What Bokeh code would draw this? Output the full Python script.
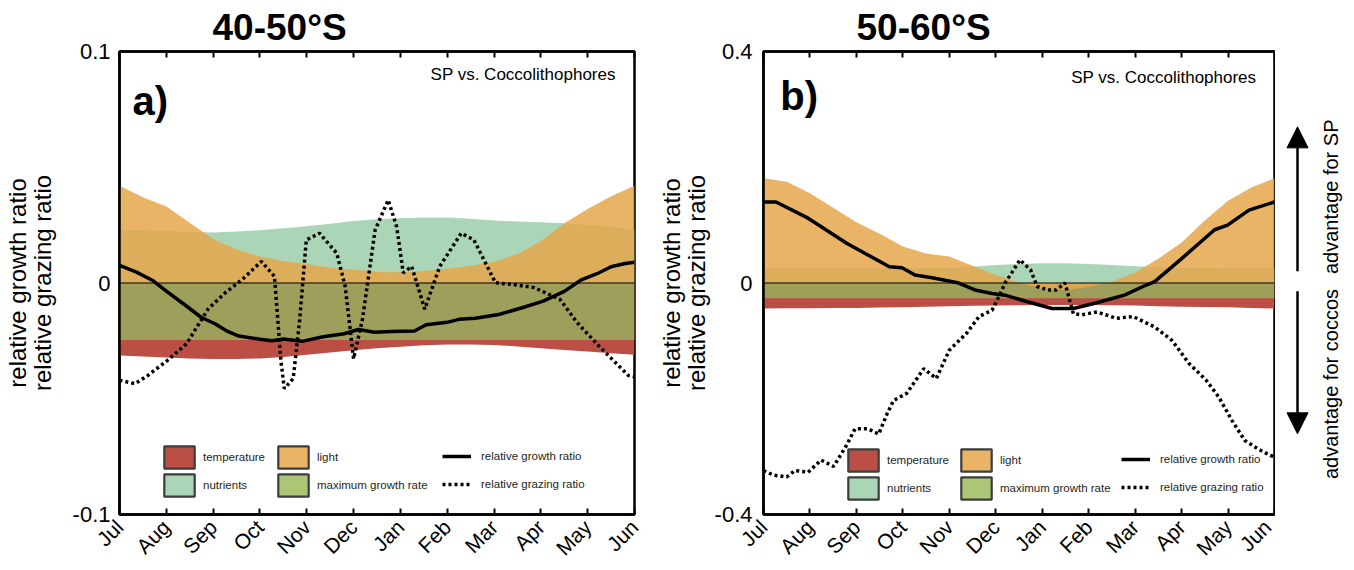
from math import pi

from bokeh.embed import file_html
from bokeh.layouts import row
from bokeh.models import (Arrow, FixedTicker, Label, Legend, LegendItem,
                          LinearAxis, NormalHead, Range1d, Span)
from bokeh.plotting import figure
from bokeh.resources import INLINE

# ---------------------------------------------------------------- data
months = ["Jul", "Aug", "Sep", "Oct", "Nov", "Dec",
          "Jan", "Feb", "Mar", "Apr", "May", "Jun"]
month_pos = list(range(12))

# half-month grid used by the limitation bands
grid = [0, 0.5, 1, 1.5, 2, 2.5, 3, 3.5, 4, 4.5, 5, 5.5,
        6, 6.5, 7, 7.5, 8, 8.5, 9, 9.5, 10, 10.5, 11]

# 40-50 S
light_a = [0.042, 0.037, 0.033, 0.026, 0.019, 0.0145, 0.0115, 0.0095, 0.0082,
           0.0066, 0.0058, 0.0048, 0.0046, 0.0052, 0.0062, 0.0075, 0.0092,
           0.0125, 0.018, 0.0258, 0.032, 0.0375, 0.042]
nutr_a = [0.023, 0.0228, 0.0225, 0.0221, 0.0218, 0.0222, 0.0228, 0.0236,
          0.0245, 0.0256, 0.0268, 0.0275, 0.028, 0.0283, 0.0283, 0.0277,
          0.027, 0.0266, 0.0262, 0.0258, 0.0252, 0.0242, 0.0232]
maxg_a = [-0.0246, -0.0246, -0.0246, -0.0246, -0.0246, -0.0246, -0.0246,
          -0.0246, -0.0246, -0.0246, -0.0246, -0.0246, -0.0246, -0.0246,
          -0.0246, -0.0246, -0.0246, -0.0246, -0.0246, -0.0246, -0.0246,
          -0.0246, -0.0246]
temp_a = [-0.0313, -0.0318, -0.0322, -0.0326, -0.0328, -0.0328, -0.0326,
          -0.032, -0.031, -0.03, -0.029, -0.0282, -0.0275, -0.0269, -0.0266,
          -0.0266, -0.0268, -0.0274, -0.0282, -0.0289, -0.0296, -0.0303,
          -0.031]

growth_a_x = [0, 0.35, 0.7, 1.0, 1.4, 1.75, 2.05, 2.3, 2.55, 3.0, 3.26, 3.5,
              3.9, 4.35, 4.8, 5.1, 5.45, 5.8, 6.3, 6.55, 7.0, 7.25, 7.6, 8.1,
              8.6, 9.05, 9.5, 9.85, 10.2, 10.5, 10.8, 11]
growth_a = [0.0076, 0.0048, 0.0012, -0.0035, -0.0095, -0.0149, -0.0177,
            -0.0208, -0.0229, -0.0243, -0.0249, -0.0242, -0.0252, -0.0232,
            -0.0219, -0.0201, -0.0213, -0.021, -0.0207, -0.018, -0.017,
            -0.0157, -0.0152, -0.0136, -0.0107, -0.0078, -0.0036, 0.0012,
            0.004, 0.007, 0.0084, 0.009]

grazing_a_x = [0, 0.33, 0.6, 1.02, 1.43, 1.89, 2.26, 2.62, 3.03, 3.31, 3.45,
               3.52, 3.71, 3.85, 3.99, 4.27, 4.64, 4.82, 5.0, 5.19, 5.46,
               5.74, 5.92, 6.06, 6.24, 6.52, 6.84, 7.3, 7.57, 8.03, 8.39,
               8.86, 9.41, 9.77, 10.23, 10.87, 11]
grazing_a = [-0.042, -0.0435, -0.04, -0.0335, -0.0263, -0.0113, -0.0042,
             0.0015, 0.0093, 0.0029, -0.034, -0.0456, -0.0413, -0.0156,
             0.0186, 0.0215, 0.0129, -0.0014, -0.0328, -0.0156, 0.0229,
             0.0358, 0.0243, 0.0044, 0.0072, -0.0113, 0.0072, 0.0215, 0.0186,
             0.0001, -0.0006, -0.002, -0.0071, -0.017, -0.027, -0.04, -0.0405]

# 50-60 S
light_b = [0.181, 0.175, 0.155, 0.13, 0.105, 0.085, 0.063, 0.051, 0.0456,
           0.03, 0.014, 0.001, -0.011, -0.012, -0.007, 0.002, 0.018, 0.042,
           0.07, 0.108, 0.142, 0.165, 0.181]
nutr_b = [0.025, 0.025, 0.025, 0.025, 0.0252, 0.0252, 0.0254, 0.0256, 0.026,
          0.028, 0.031, 0.033, 0.034, 0.034, 0.033, 0.031, 0.029, 0.027,
          0.026, 0.0255, 0.025, 0.025, 0.025]
maxg_b = [-0.0265, -0.0265, -0.0265, -0.0265, -0.0265, -0.0265, -0.0265,
          -0.0265, -0.0265, -0.0265, -0.0265, -0.0265, -0.0265, -0.0265,
          -0.0265, -0.0265, -0.0265, -0.0265, -0.0265, -0.0265, -0.0265,
          -0.0265, -0.0265]
temp_b = [-0.044, -0.0438, -0.0435, -0.0432, -0.043, -0.0425, -0.042,
          -0.041, -0.04, -0.0395, -0.039, -0.0385, -0.038, -0.038, -0.038,
          -0.0385, -0.039, -0.04, -0.041, -0.0415, -0.042, -0.043, -0.044]

growth_b_x = [0, 0.27, 0.96, 1.79, 2.71, 2.98, 3.26, 3.63, 4.18, 4.55, 4.92,
              5.2, 5.66, 6.21, 6.67, 7.13, 7.77, 8.24, 8.42, 8.97, 9.71, 9.99,
              10.45, 11]
growth_b = [0.14, 0.14, 0.112, 0.0687, 0.028, 0.0265, 0.0139, 0.0092, 0.0005,
            -0.012, -0.018, -0.021, -0.032, -0.044, -0.044, -0.035, -0.021,
            -0.0035, 0.0023, 0.04, 0.092, 0.1, 0.126, 0.14]

grazing_b_x = [0, 0.22, 0.5, 0.68, 0.96, 1.24, 1.51, 1.79, 1.97, 2.25, 2.48,
               2.66, 2.8, 3.08, 3.45, 3.72, 4.0, 4.37, 4.64, 4.92, 5.1, 5.2,
               5.29, 5.52, 5.75, 5.89, 6.12, 6.3, 6.49, 6.67, 6.85, 7.18,
               7.59, 7.96, 8.42, 8.79, 9.16, 9.53, 9.8, 10.08, 10.36, 10.63,
               10.91, 11]
grazing_b = [-0.324, -0.332, -0.335, -0.324, -0.327, -0.306, -0.317, -0.28,
             -0.252, -0.252, -0.261, -0.226, -0.203, -0.191, -0.148, -0.165,
             -0.116, -0.087, -0.058, -0.047, -0.018, 0.0, 0.011, 0.04, 0.0225,
             -0.006, -0.012, -0.012, 0.0, -0.053, -0.055, -0.05, -0.061,
             -0.058, -0.076, -0.099, -0.139, -0.168, -0.197, -0.237, -0.272,
             -0.286, -0.298, -0.3]

y_ticks_a = [-0.1, 0, 0.1]
y_tick_labels_a = ["-0.1", "0", "0.1"]
y_ticks_b = [-0.4, 0, 0.4]
y_tick_labels_b = ["-0.4", "0", "0.4"]

# ---------------------------------------------------------------- style
FONT = "Liberation Sans"
C_TEMP = "#bb4f45"
C_NUTR = "#aad5b7"
C_LIGHT = "#e5a74b"          # drawn translucent over the nutrient band
LIGHT_ALPHA = 0.85
C_MAXG = "#9e9f5b"
C_MAXG_KEY = "#adc676"
C_KEY_EDGE = "#3d3d3d"
NAN = float("nan")
TOP, BOTTOM = 51, 54          # shared frame borders of the row


def make_panel(width, left, right, ylim, yt, ytl, ylab_standoff,
               tick_standoff, bands, growth, grazing, title, title_offset,
               tag, text_pos, legend_pos):
    p = figure(width=width, height=570, x_range=Range1d(0, 11),
               y_range=Range1d(*ylim), output_backend="svg",
               toolbar_location=None, min_border_left=left,
               min_border_right=right, min_border_top=TOP,
               min_border_bottom=BOTTOM)
    p.grid.visible = False
    p.outline_line_color = "black"
    p.outline_line_width = 2.5
    p.background_fill_color = "white"

    p.title.text = title
    p.title.align = "left"
    p.title.offset = title_offset
    p.title.standoff = 8
    p.title.text_font = FONT
    p.title.text_font_size = "37px"
    p.title.text_font_style = "bold"
    p.title.text_color = "black"
    p.title.text_line_height = 1.0

    # month axis, ticks pointing inward on bottom and top
    xa = p.xaxis[0]
    xa.ticker = FixedTicker(ticks=month_pos)
    xa.major_label_overrides = {i: m for i, m in zip(month_pos, months)}
    xa.major_label_orientation = pi / 4
    xa.major_label_text_font = FONT
    xa.major_label_text_font_size = "21px"
    xa.major_label_text_color = "black"
    xa.major_label_standoff = 9
    xa.major_tick_in = 6
    xa.major_tick_out = 0
    xa.major_tick_line_width = 2
    xa.minor_tick_line_color = None
    xa.axis_line_width = 2.5

    top_axis = LinearAxis(ticker=FixedTicker(ticks=month_pos),
                          major_label_text_font_size="1px",
                          major_label_text_color=None,
                          major_label_standoff=0, major_tick_in=6,
                          major_tick_out=0, major_tick_line_width=2,
                          minor_tick_line_color=None, axis_line_width=2.5)
    p.add_layout(top_axis, "above")

    ya = p.yaxis[0]
    ya.ticker = FixedTicker(ticks=yt)
    ya.major_label_overrides = {t: s for t, s in zip(yt, ytl)}
    ya.major_label_text_font = FONT
    ya.major_label_text_font_size = "22px"
    ya.major_label_text_color = "black"
    ya.major_label_standoff = tick_standoff
    ya.major_tick_in = 0
    ya.major_tick_out = 0
    ya.minor_tick_line_color = None
    ya.axis_line_width = 2.5
    ya.axis_label = "relative growth ratio\nrelative grazing ratio"
    ya.axis_label_text_font = FONT
    ya.axis_label_text_font_size = "24px"
    ya.axis_label_text_font_style = "normal"
    ya.axis_label_text_line_height = 0.92
    ya.axis_label_text_color = "black"
    ya.axis_label_standoff = ylab_standoff

    light, nutr, maxg, temp = bands
    base = [0.0] * len(grid)
    p.varea(x=grid, y1=base, y2=temp, fill_color=C_TEMP)
    p.varea(x=grid, y1=base, y2=maxg, fill_color=C_MAXG)
    p.varea(x=grid, y1=base, y2=nutr, fill_color=C_NUTR)
    p.varea(x=grid, y1=base, y2=light, fill_color=C_LIGHT,
            fill_alpha=LIGHT_ALPHA)
    p.add_layout(Span(location=0, dimension="width", line_color="black",
                      line_width=1))

    p.line(growth[0], growth[1], line_color="black", line_width=3.5,
           line_join="round")
    p.line(grazing[0], grazing[1], line_color="black", line_width=3.5,
           line_dash="3 3")

    # legend keys (one undrawn point each so the key glyph gets its style)
    def key(color, alpha=1.0):
        return p.quad(left=[NAN], right=[NAN], top=[NAN], bottom=[NAN],
                      fill_color=color, fill_alpha=alpha,
                      line_color=C_KEY_EDGE, line_width=2.2)

    k_temp = key(C_TEMP)
    k_nutr = key(C_NUTR)
    k_light = key(C_LIGHT, LIGHT_ALPHA)
    k_maxg = key(C_MAXG_KEY)
    k_grow = p.line(x=[NAN], y=[NAN], line_color="black", line_width=3.5)
    k_graz = p.line(x=[NAN], y=[NAN], line_color="black", line_width=3.5,
                    line_dash="3 3")
    columns = [
        ([("temperature", k_temp), ("nutrients", k_nutr)], 38, 5),
        ([("light", k_light), ("maximum growth rate", k_maxg)], 38, 5),
        ([("relative growth ratio", k_grow),
          ("relative grazing ratio", k_graz)], 29, 10),
    ]
    for (items, gw, stand), loc in zip(columns, legend_pos):
        lg = Legend(items=[LegendItem(label=t, renderers=[r]) for t, r in items],
                    location=loc, orientation="vertical", glyph_width=gw,
                    glyph_height=28, label_height=28, label_standoff=stand,
                    spacing=0, padding=0, margin=0, border_line_color=None,
                    background_fill_alpha=0, label_text_font=FONT,
                    label_text_font_size="11.5px",
                    label_text_color="#231f20")
        p.add_layout(lg)

    (ax, ay), (sx, sy) = text_pos
    p.add_layout(Label(x=ax, y=ay, text=tag, text_align="left",
                       text_baseline="middle", text_font=FONT,
                       text_font_size="40px", text_font_style="bold",
                       text_color="black"))
    p.add_layout(Label(x=sx, y=sy, text="SP vs. Coccolithophores",
                       text_align="right", text_baseline="middle",
                       text_font=FONT, text_font_size="17px",
                       text_color="black"))
    return p


pa = make_panel(654, 115, 20, (-0.1, 0.1), y_ticks_a, y_tick_labels_a,
                14, 9, (light_a, nutr_a, maxg_a, temp_a),
                (growth_a_x, growth_a), (grazing_a_x, grazing_a),
                "40-50°S", 93, "a)",
                ((0.28, 0.0786), (10.6, 0.0901)),
                [(41, 15), (155, 15), (323, 16)])

pb = make_panel(621, 106, 1, (-0.4, 0.4), y_ticks_b, y_tick_labels_b,
                2, 11, (light_b, nutr_b, maxg_b, temp_b),
                (growth_b_x, growth_b), (grazing_b_x, grazing_b),
                "50-60°S", 93, "b)",
                ((0.36, 0.3226), (10.61, 0.3555)),
                [(81, 12), (194, 12), (358, 13)])

# direction-of-advantage arrows beside panel b
pc = figure(width=79, height=570, x_range=Range1d(0, 79),
            y_range=Range1d(-0.4, 0.4), output_backend="svg",
            toolbar_location=None, x_axis_location=None,
            y_axis_location=None, min_border_left=0, min_border_right=0,
            min_border_top=TOP, min_border_bottom=BOTTOM)
pc.grid.visible = False
pc.outline_line_color = None
pc.add_layout(Arrow(end=NormalHead(size=21, fill_color="black",
                                   line_color="black"),
                    x_start=22, y_start=0.0203, x_end=22, y_end=0.2698,
                    line_width=2.5, line_color="black"))
pc.add_layout(Arrow(end=NormalHead(size=21, fill_color="black",
                                   line_color="black"),
                    x_start=22, y_start=-0.0141, x_end=22, y_end=-0.2606,
                    line_width=2.5, line_color="black"))
pc.add_layout(Label(x=55, y=0.149, text="advantage for SP", angle=pi / 2,
                    text_align="center", text_baseline="middle",
                    text_font=FONT, text_font_size="20px",
                    text_color="black"))
pc.add_layout(Label(x=55, y=-0.1746, text="advantage for coccos",
                    angle=pi / 2, text_align="center", text_baseline="middle",
                    text_font=FONT, text_font_size="20px",
                    text_color="black"))

layout = row(pa, pb, pc)
open("out.html", "w").write(file_html(layout, INLINE))
